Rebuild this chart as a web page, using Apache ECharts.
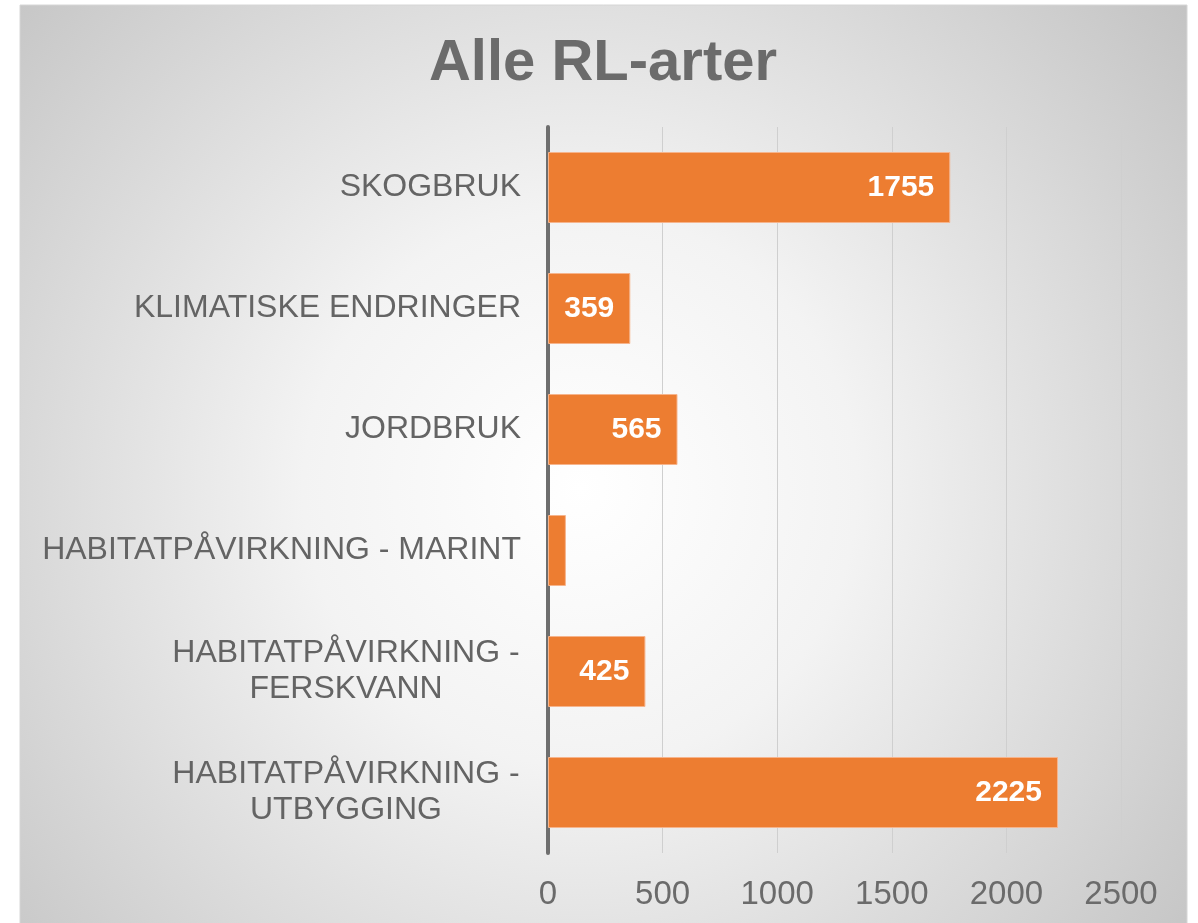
<!DOCTYPE html>
<html>
<head>
<meta charset="utf-8">
<script src="https://cdn.jsdelivr.net/npm/echarts@6/dist/echarts.min.js"></script>
<style>
  html, body { margin: 0; padding: 0; background: #ffffff; }
  #main { width: 1198px; height: 923px; }
</style>
</head>
<body>
<div id="main"></div>
<script>
var categories = ['SKOGBRUK', 'KLIMATISKE ENDRINGER', 'JORDBRUK', 'HABITATPÅVIRKNING - MARINT', 'HABITATPÅVIRKNING -\nFERSKVANN', 'HABITATPÅVIRKNING -\nUTBYGGING'];
var values = [1755, 359, 565, 78, 425, 2225];
var hiddenLabels = [false, false, false, true, false, false];
var xTicks = [0, 500, 1000, 1500, 2000, 2500];

var font = '"Liberation Sans", Arial, sans-serif';
var labelSize = 32;

// width of the first line of a two-line label, used to center the lines
var ctx = document.createElement('canvas').getContext('2d');
ctx.font = labelSize + 'px ' + font;
function lineWidth(s) { return Math.ceil(ctx.measureText(s).width) + 2; }

var chart = echarts.init(document.getElementById('main'));

chart.setOption({
    backgroundColor: '#ffffff',
    graphic: [{
        type: 'rect',
        z: -10,
        silent: true,
        shape: { x: 20, y: 5, width: 1167, height: 930 },
        style: {
            fill: new echarts.graphic.RadialGradient(0.48, 0.52, 0.85, [
                { offset: 0, color: '#ffffff' },
                { offset: 0.35, color: '#f3f3f3' },
                { offset: 1, color: '#c2c2c2' }
            ]),
            stroke: '#d6d6d6',
            lineWidth: 1
        }
    }],
    title: {
        text: 'Alle RL-arter',
        left: 598,
        textAlign: 'center',
        top: 30,
        textStyle: {
            fontFamily: font,
            fontSize: 58,
            fontWeight: 'bold',
            color: '#6b6b6b'
        }
    },
    grid: {
        left: 548,
        right: 77,
        top: 127,
        bottom: 70,
        containLabel: false
    },
    xAxis: {
        type: 'value',
        min: 0,
        max: 2500,
        interval: 500,
        axisLine: { show: false },
        axisTick: { show: false },
        splitLine: {
            show: true,
            lineStyle: { color: '#cfcfcf', width: 1 }
        },
        axisLabel: {
            margin: 25,
            fontFamily: font,
            fontSize: 33,
            color: '#6b6b6b',
            formatter: function (v) { return xTicks.indexOf(v) >= 0 ? String(v) : ''; }
        }
    },
    yAxis: {
        type: 'category',
        data: categories,
        inverse: true,
        axisTick: { show: false },
        axisLine: {
            show: true,
            lineStyle: { color: '#6e6e6e', width: 4 }
        },
        axisLabel: {
            margin: 27,
            fontFamily: font,
            fontSize: labelSize,
            color: '#646464',
            lineHeight: 36,
            formatter: function (v) {
                var parts = v.split('\n');
                if (parts.length === 1) return v;
                return parts.map(function (p) { return '{c|' + p + '}'; }).join('\n');
            },
            rich: {
                c: {
                    fontFamily: font,
                    fontSize: labelSize,
                    color: '#646464',
                    lineHeight: 36,
                    width: lineWidth('HABITATPÅVIRKNING -'),
                    align: 'center'
                }
            }
        }
    },
    series: [{
        type: 'bar',
        barWidth: 71,
        data: values.map(function (v, i) {
            return { value: v, label: { show: !hiddenLabels[i] } };
        }),
        itemStyle: {
            color: '#ED7D31',
            borderColor: '#f6b48c',
            borderWidth: 1
        },
        label: {
            show: true,
            position: 'insideRight',
            distance: 16,
            color: '#ffffff',
            fontFamily: font,
            fontSize: 30,
            fontWeight: 'bold'
        }
    }]
});
</script>
</body>
</html>
